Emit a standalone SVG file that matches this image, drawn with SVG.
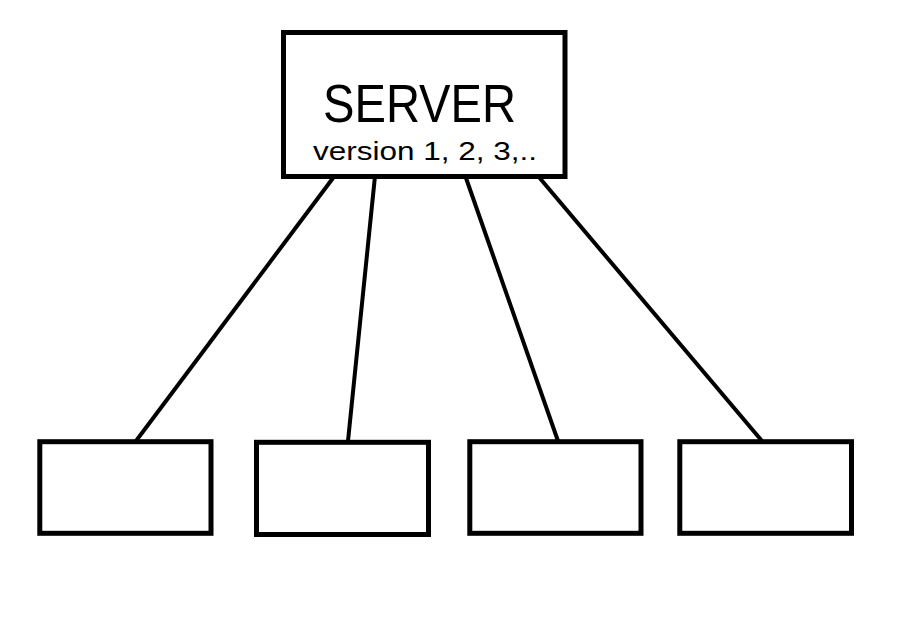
<svg xmlns="http://www.w3.org/2000/svg" width="915" height="619" viewBox="0 0 915 619">
<style>
.box{fill:#fff;stroke:#000;stroke-width:5}
.ln{stroke:#000;stroke-width:4;fill:none}
.t{font-family:"Liberation Sans",Arial,sans-serif;fill:#000}
</style>
<rect width="915" height="619" fill="#fff"/>
<g id="connectors">
<line class="ln" x1="333" y1="178" x2="136" y2="441"/>
<line class="ln" x1="375" y1="176" x2="348" y2="441"/>
<line class="ln" x1="466" y1="178" x2="558" y2="441"/>
<line class="ln" x1="538" y1="176" x2="762" y2="441"/>
</g>
<g id="server">
<rect class="box" x="283.5" y="32.5" width="281.5" height="144"/>
<text class="t" x="323" y="122" font-size="53" textLength="193" lengthAdjust="spacingAndGlyphs">SERVER</text>
<text class="t" x="313" y="160" font-size="26" textLength="224" lengthAdjust="spacingAndGlyphs">version 1, 2, 3,..</text>
</g>
<g id="client1"><rect class="box" x="39.8" y="441.7" width="171.2" height="91.6"/></g>
<g id="client2"><rect class="box" x="256.5" y="442.3" width="172" height="92.2"/></g>
<g id="client3"><rect class="box" x="469.8" y="441.7" width="171.2" height="91.6"/></g>
<g id="client4"><rect class="box" x="679.8" y="441.7" width="171.7" height="91.6"/></g>
</svg>
